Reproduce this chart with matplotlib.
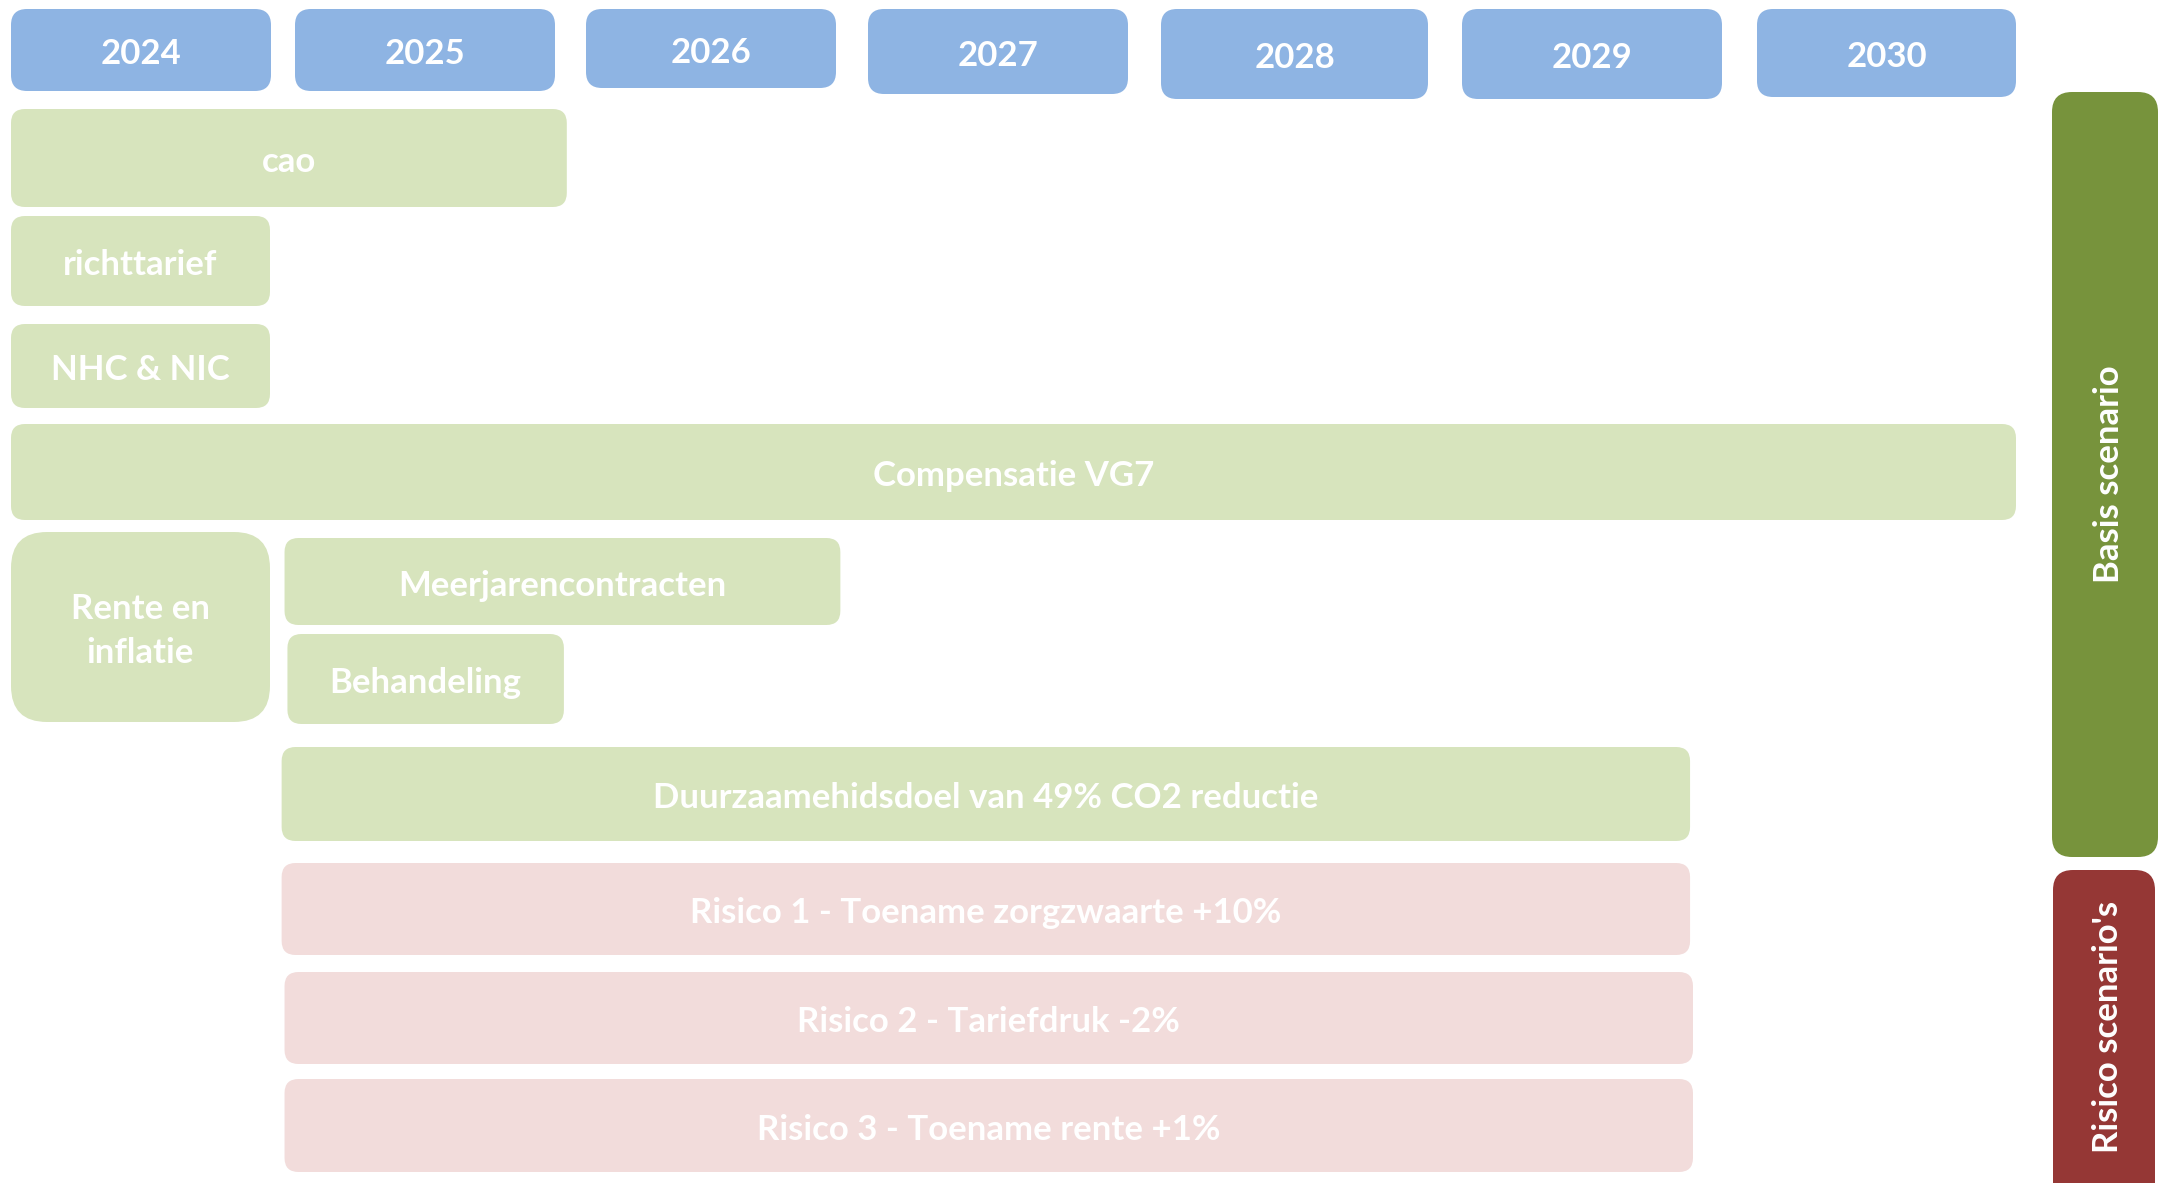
import matplotlib
matplotlib.use("Agg")
import matplotlib.pyplot as plt
from matplotlib.patches import FancyBboxPatch

# ---------------- data ----------------
years = [2024, 2025, 2026, 2027, 2028, 2029, 2030]

basis_labels = ["cao", "richttarief", "NHC & NIC", "Compensatie VG7",
                "Rente en\ninflatie", "Meerjarencontracten", "Behandeling",
                "Duurzaamehidsdoel van 49% CO2 reductie"]
basis_start = [2024.0, 2024.0, 2024.0, 2024.0, 2024.0, 2024.94, 2024.95, 2024.93]
basis_end = [2025.91, 2024.89, 2024.89, 2030.89, 2024.89, 2026.85, 2025.90, 2029.77]

risk_labels = ["Risico 1 - Toename zorgzwaarte +10%",
               "Risico 2 - Tariefdruk -2%",
               "Risico 3 - Toename rente +1%"]
risk_start = [2024.93, 2024.94, 2024.94]
risk_end = [2029.77, 2029.78, 2029.78]

group_labels = ["Basis scenario", "Risico scenario's"]

# ---------------- layout (pixels, top-down) ----------------
W, H = 2162, 1183
PX_PER_YEAR = 291.0
X0 = 2024 - 11 / PX_PER_YEAR
X1 = X0 + W / PX_PER_YEAR

year_left_px = [11, 295, 586, 868, 1161, 1462, 1757]
year_width_px = [260, 260, 250, 260, 267, 260, 259]
year_top = 9
year_bottom = [91, 91, 88, 94, 99, 99, 97]

basis_rows = [(109, 207), (216, 306), (324, 408), (424, 520), (532, 722),
              (538, 625), (634, 724), (747, 841)]
basis_radius = [14, 14, 14, 14, 36, 14, 14, 14]
risk_rows = [(863, 955), (972, 1064), (1079, 1172)]

group_x = [(2052, 2158), (2053, 2155)]
group_y = [(92, 857), (870, 1215)]

C_YEAR = "#8EB4E3"
C_LIGHT_GREEN = "#D7E4BD"
C_PINK = "#F2DCDB"
C_GREEN = "#77933C"
C_RED = "#953735"

FONT = ["Lato", "DejaVu Sans"]
FS = 25
TXT_DY = 4

fig = plt.figure(figsize=(W / 100, H / 100), dpi=100)
ax = fig.add_axes([0, 0, 1, 1])
ax.set_xlim(X0, X1)
ax.set_ylim(H, 0)
ax.axis("off")

ASPECT = PX_PER_YEAR  # y-units per x-unit in screen terms


def px2x(px):
    return X0 + px / PX_PER_YEAR


def rbox(x0, x1, y0, y1, color, r_px=14, label=None, fs=FS, ls=1.2):
    p = FancyBboxPatch((x0, y0), x1 - x0, y1 - y0,
                       boxstyle=f"round,pad=0,rounding_size={r_px / PX_PER_YEAR}",
                       mutation_aspect=ASPECT, facecolor=color, edgecolor="none")
    ax.add_patch(p)
    if label is not None:
        ax.text((x0 + x1) / 2, (y0 + y1) / 2 + TXT_DY, label, ha="center", va="center",
                color="white", fontsize=fs, fontweight="bold", family=FONT,
                linespacing=ls)


for i, y in enumerate(years):
    rbox(px2x(year_left_px[i]), px2x(year_left_px[i] + year_width_px[i]),
         year_top, year_bottom[i], C_YEAR, 16, str(y))

for lab, s, e, (t, b), r in zip(basis_labels, basis_start, basis_end, basis_rows, basis_radius):
    rbox(s, e, t, b, C_LIGHT_GREEN, r, lab, ls=1.45)

for lab, s, e, (t, b) in zip(risk_labels, risk_start, risk_end, risk_rows):
    rbox(s, e, t, b, C_PINK, 14, lab)

for lab, (px0, px1), (t, b), c in zip(group_labels, group_x, group_y, [C_GREEN, C_RED]):
    x0 = px2x(px0)
    x1 = px2x(px1)
    rbox(x0, x1, t, b, c, 20, None)
    cy = (t + min(b, H)) / 2
    ax.text((x0 + x1) / 2 + TXT_DY / PX_PER_YEAR, cy, lab, ha="center", va="center",
            color="white", fontsize=FS, fontweight="bold", family=FONT, rotation=90)

fig.savefig("out.png", dpi=100)
